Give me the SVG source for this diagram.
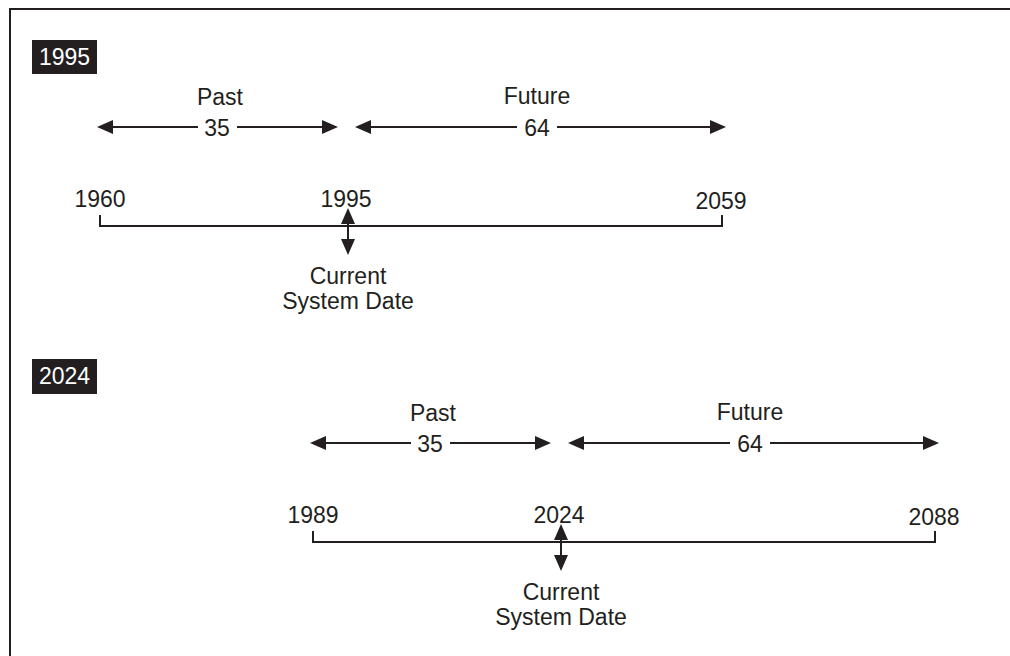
<svg xmlns="http://www.w3.org/2000/svg" width="1010" height="656" viewBox="0 0 1010 656">
<style>
.t{font-family:"Liberation Sans",Arial,Helvetica,sans-serif;font-size:23px;fill:#231f20;text-anchor:middle}
.w{fill:#ffffff}
.box{fill:#231f20}
.ln{stroke:#231f20;stroke-width:2;fill:none}
.fr{stroke:#231f20;stroke-width:2;fill:none}
</style>
<defs>
<marker id="ah" markerUnits="userSpaceOnUse" viewBox="0 0 16 14" markerWidth="16" markerHeight="14" refX="0" refY="7" orient="auto-start-reverse">
<path d="M0,0L16,7L0,14z" fill="#231f20"/>
</marker>
</defs>
<rect width="1010" height="656" fill="#ffffff"/>
<path class="fr" d="M10,656V9H1010"/>

<g id="label-1995">
<rect class="box" x="32" y="40" width="65" height="34"/>
<text class="t w" x="64.5" y="65">1995</text>
</g>
<g id="label-2024">
<rect class="box" x="32" y="359" width="65" height="35"/>
<text class="t w" x="64.5" y="384">2024</text>
</g>

<g id="section-1995">
<g id="past-1995">
<text class="t" x="220" y="105">Past</text>
<text class="t" x="217" y="136">35</text>
</g>
<g id="future-1995">
<text class="t" x="537" y="104">Future</text>
<text class="t" x="537" y="136">64</text>
</g>
<g id="years-1995">
<text class="t" x="100" y="207">1960</text>
<text class="t" x="346" y="207">1995</text>
<text class="t" x="721" y="209">2059</text>
</g>
<g id="current-1995">
<text class="t" x="348" y="284">Current</text>
<text class="t" x="348" y="309">System Date</text>
</g>
<g id="connectors-1995">
<line class="ln" x1="113" y1="127" x2="198" y2="127" marker-start="url(#ah)"/>
<line class="ln" x1="237" y1="127" x2="322" y2="127" marker-end="url(#ah)"/>
<line class="ln" x1="371" y1="127" x2="517" y2="127" marker-start="url(#ah)"/>
<line class="ln" x1="557" y1="127" x2="710" y2="127" marker-end="url(#ah)"/>
<path class="ln" d="M100,215V226H722V215"/>
<line class="ln" x1="348" y1="224" x2="348" y2="239" marker-start="url(#ah)" marker-end="url(#ah)"/>
</g>
</g>

<g id="section-2024" transform="translate(213,316)">
<g id="past-2024">
<text class="t" x="220" y="105">Past</text>
<text class="t" x="217" y="136">35</text>
</g>
<g id="future-2024">
<text class="t" x="537" y="104">Future</text>
<text class="t" x="537" y="136">64</text>
</g>
<g id="years-2024">
<text class="t" x="100" y="207">1989</text>
<text class="t" x="346" y="207">2024</text>
<text class="t" x="721" y="209">2088</text>
</g>
<g id="current-2024">
<text class="t" x="348" y="284">Current</text>
<text class="t" x="348" y="309">System Date</text>
</g>
<g id="connectors-2024">
<line class="ln" x1="113" y1="127" x2="198" y2="127" marker-start="url(#ah)"/>
<line class="ln" x1="237" y1="127" x2="322" y2="127" marker-end="url(#ah)"/>
<line class="ln" x1="371" y1="127" x2="517" y2="127" marker-start="url(#ah)"/>
<line class="ln" x1="557" y1="127" x2="710" y2="127" marker-end="url(#ah)"/>
<path class="ln" d="M100,215V226H722V215"/>
<line class="ln" x1="348" y1="224" x2="348" y2="239" marker-start="url(#ah)" marker-end="url(#ah)"/>
</g>
</g>
</svg>
